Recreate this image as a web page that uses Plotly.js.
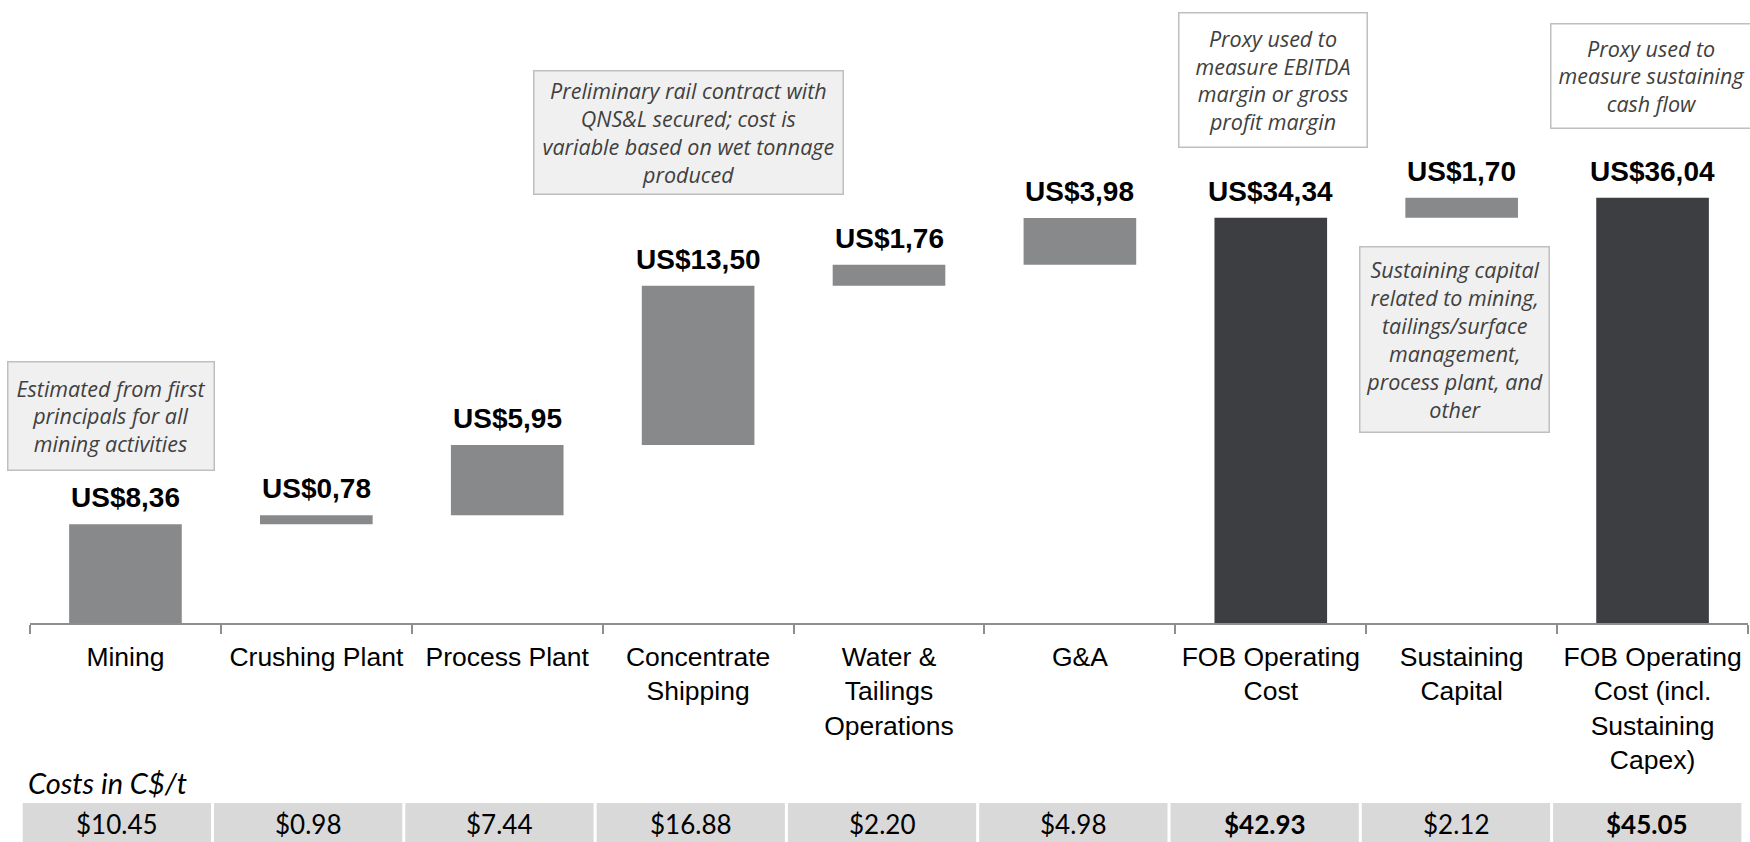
<!DOCTYPE html>
<html><head><meta charset="utf-8">
<script src="https://cdn.plot.ly/plotly-3.0.1.min.js"></script>
<style>html,body{margin:0;padding:0;background:#fff;} #chart{width:1750px;height:842px;}</style>
</head><body><div id="chart"></div>
<script>
// ---- data ----
const categories = ["Mining", "Crushing Plant", "Process Plant", "Concentrate<br>Shipping",
  "Water &<br>Tailings<br>Operations", "G&A", "FOB Operating<br>Cost", "Sustaining<br>Capital",
  "FOB Operating<br>Cost (incl.<br>Sustaining<br>Capex)"];
const usdValues = [8.36, 0.78, 5.95, 13.50, 1.76, 3.98, 34.34, 1.70, 36.04];
const measures = ["relative", "relative", "relative", "relative", "relative", "relative", "absolute", "relative", "absolute"];
const cadValues = [10.45, 0.98, 7.44, 16.88, 2.20, 4.98, 42.93, 2.12, 45.05];
const tableTitle = "Costs in C$/t";
const noteTexts = [
  "Estimated from first<br>principals for all<br>mining activities",
  "Preliminary rail contract with<br>QNS&L secured; cost is<br>variable based on wet tonnage<br>produced",
  "Proxy used to<br>measure EBITDA<br>margin or gross<br>profit margin",
  "Proxy used to<br>measure sustaining<br>cash flow",
  "Sustaining capital<br>related to mining,<br>tailings/surface<br>management,<br>process plant, and<br>other"
];

// ---- layout geometry (pixels) ----
const W = 1750, H = 842, L = 30, R = 2, T = 0, B = 219;
const plotW = W - L - R, plotH = H - T - B;
const pxPerUnit = 11.8;
const px2x = px => (px - L) / plotW;
const px2y = py => (H - B - py) / plotH;
// note boxes: [x0, y0, x1, y1, fill]
const noteBoxes = [
  [7, 361, 215, 471, "#F0F0F0"],
  [533, 70, 844, 195, "#F0F0F0"],
  [1178, 12, 1368, 148, "#FFFFFF"],
  [1550, 23, 1753, 129, "#FFFFFF"],
  [1359, 246, 1550, 433, "#F0F0F0"]
];

const fmtUS = v => "US$" + v.toFixed(2).replace(".", ",");
const fmtCA = v => "$" + v.toFixed(2);

// bar tops for label placement
let cum = 0;
const tops = usdValues.map((v, i) => {
  if (measures[i] === "absolute") { cum = v; } else { cum += v; }
  return cum;
});

const annotations = [];
usdValues.forEach((v, i) => {
  annotations.push({
    xref: "x", yref: "y", x: categories[i], y: tops[i], yanchor: "bottom", xanchor: "center",
    yshift: 9, showarrow: false, text: fmtUS(v),
    font: {family: "Liberation Sans, Arial, sans-serif", size: 28, color: "#000", weight: "bold"}
  });
});
noteTexts.forEach((t, i) => {
  const b = noteBoxes[i];
  annotations.push({
    xref: "paper", yref: "paper", x: px2x((b[0] + b[2]) / 2), y: px2y((b[1] + b[3]) / 2),
    xanchor: "center", yanchor: "middle", showarrow: false, text: t,
    width: b[2] - b[0] - 3, height: b[3] - b[1] - 3, borderpad: 0,
    bgcolor: b[4], bordercolor: "#BFBFBF", borderwidth: 1.5,
    font: {family: "'Open Sans', Lato, sans-serif", size: 21.5, color: "#404040", style: "italic"}
  });
});
// table row
const cellX0 = 22.7, cellStep = 191.3, cellW = 188.3, cellY0 = 803, cellY1 = 845;
const shapes = [];
cadValues.forEach((v, i) => {
  const x0 = cellX0 + i * cellStep;
  shapes.push({type: "rect", xref: "paper", yref: "paper", x0: px2x(x0), x1: px2x(x0 + cellW),
    y0: px2y(cellY1), y1: px2y(cellY0), fillcolor: "#D9D9D9", line: {width: 0}, layer: "below"});
  annotations.push({
    xref: "paper", yref: "paper", x: px2x(x0 + cellW / 2), y: px2y(824), xanchor: "center", yanchor: "middle",
    showarrow: false, text: fmtCA(v),
    font: {family: "Lato, 'Open Sans', sans-serif", size: 26, color: "#000",
      weight: measures[i] === "absolute" ? "bold" : "normal"}
  });
});
annotations.push({
  xref: "paper", yref: "paper", x: px2x(26), y: px2y(782), xanchor: "left", yanchor: "middle",
  showarrow: false, text: tableTitle,
  font: {family: "Lato, 'Open Sans', sans-serif", size: 29, color: "#000", style: "italic"}
});

const trace = {
  type: "waterfall", x: categories, y: usdValues, measure: measures,
  increasing: {marker: {color: "#88898B"}},
  totals: {marker: {color: "#3D3E42"}},
  decreasing: {marker: {color: "#88898B"}},
  connector: {visible: false}, textinfo: "none", hoverinfo: "skip", showlegend: false
};

const layout = {
  width: W, height: H, margin: {l: L, r: R, t: T, b: B, pad: 0},
  paper_bgcolor: "#fff", plot_bgcolor: "#fff", showlegend: false,
  waterfallgap: 0.41,
  font: {family: "Liberation Sans, Arial, sans-serif", color: "#000"},
  xaxis: {type: "category", range: [-0.5, 8.5], showline: true, linecolor: "#8E8E8E", linewidth: 2,
    ticks: "outside", tickson: "boundaries", ticklen: 9, tickwidth: 2, tickcolor: "#8E8E8E",
    tickangle: 0, automargin: false, ticklabelstandoff: 9,
    tickfont: {family: "Liberation Sans, Arial, sans-serif", size: 26.5, color: "#000"},
    showgrid: false, zeroline: false, fixedrange: true},
  yaxis: {range: [0, plotH / pxPerUnit], visible: false, showgrid: false, zeroline: false, fixedrange: true},
  annotations: annotations, shapes: shapes
};
Plotly.newPlot("chart", [trace], layout, {displayModeBar: false, staticPlot: true});
</script>
</body></html>
